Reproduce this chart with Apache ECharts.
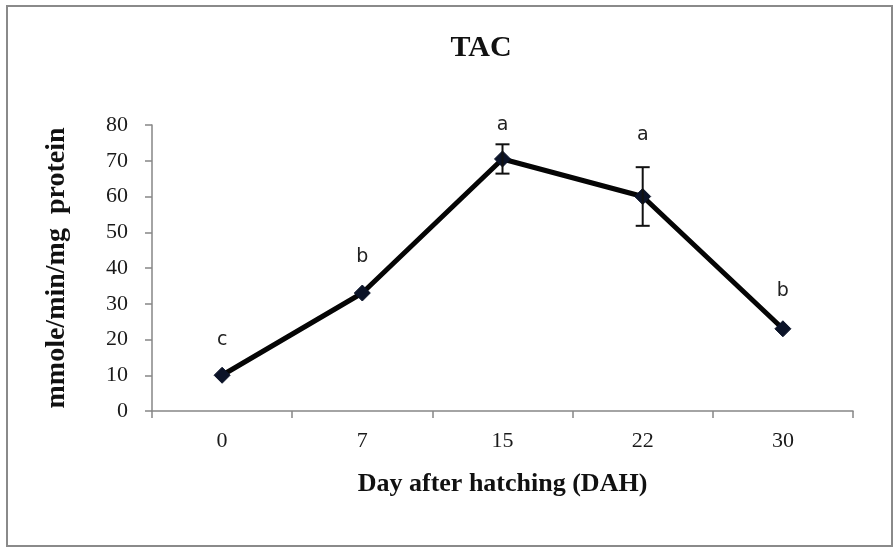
<!DOCTYPE html>
<html>
<head>
<meta charset="utf-8">
<title>TAC</title>
<script src="https://cdn.jsdelivr.net/npm/echarts@6/dist/echarts.min.js"></script>
<style>
  html, body { margin: 0; padding: 0; background: #ffffff; }
  #chart { width: 893px; height: 547px; }
</style>
</head>
<body>
<div id="chart"></div>
<script>
// Days after hatching
const days = ['0', '7', '15', '22', '30'];
// Mean total antioxidant capacity (mmole/min/mg protein)
const tacMean = [10, 33, 70.5, 60, 23];
// Standard error of each mean
const tacErr = [0.5, 0.7, 4.1, 8.2, 0.6];
// Significance letters
const groups = ['c', 'b', 'a', 'a', 'b'];
// Value-axis ticks
const yMin = 0, yMax = 80, yStep = 10;

const serif = '"Liberation Serif", "Times New Roman", serif';
const sans = '"DejaVu Sans", Tahoma, sans-serif';

const chart = echarts.init(document.getElementById('chart'), null, { renderer: 'canvas' });

// distance of each letter above the upper end of its error bar
const letterGap = [33, 33, 19, 32, 36];

const option = {
  animation: false,
  backgroundColor: '#ffffff',
  title: {
    text: 'TAC',
    left: 476,
    top: 28,
    textAlign: 'center',
    textStyle: { fontFamily: serif, fontWeight: 'bold', fontSize: 30, color: '#111' }
  },
  graphic: [{
    type: 'rect',
    shape: { x: 7, y: 6, width: 885, height: 540 },
    style: { fill: 'none', stroke: '#8a8a8a', lineWidth: 2 },
    silent: true
  }],
  grid: { left: 152, right: 40, top: 125, bottom: 136 },
  xAxis: {
    type: 'category',
    data: days,
    boundaryGap: true,
    name: 'Day after hatching (DAH)',
    nameLocation: 'middle',
    nameGap: 60,
    nameTextStyle: { fontFamily: serif, fontWeight: 'bold', fontSize: 26, color: '#111' },
    axisLine: { lineStyle: { color: '#868686', width: 1.5 } },
    axisTick: { show: true, inside: false, length: 7, alignWithLabel: false, lineStyle: { color: '#868686', width: 1.5 } },
    axisLabel: { margin: 19, fontFamily: serif, fontSize: 22, color: '#1a1a1a' },
    splitLine: { show: false }
  },
  yAxis: {
    type: 'value',
    min: yMin,
    max: yMax,
    interval: yStep,
    name: 'mmole/min/mg  protein',
    nameLocation: 'middle',
    nameGap: 81,
    nameRotate: 90,
    nameTextStyle: { fontFamily: serif, fontWeight: 'bold', fontSize: 28, color: '#111' },
    axisLine: { show: true, lineStyle: { color: '#868686', width: 1.5 } },
    axisTick: { show: true, length: 7, lineStyle: { color: '#868686', width: 1.5 } },
    axisLabel: { margin: 24, fontFamily: serif, fontSize: 22, color: '#1a1a1a' },
    splitLine: { show: false }
  },
  series: [
    {
      name: 'TAC',
      type: 'line',
      data: tacMean,
      z: 3,
      symbol: 'diamond',
      symbolSize: 16,
      lineStyle: { color: '#050505', width: 5 },
      itemStyle: { color: '#0b1328', borderColor: '#0b1328', borderWidth: 1 }
    },
    {
      name: 'SE',
      type: 'custom',
      z: 4,
      data: tacMean.map((m, i) => [i, m, tacErr[i], groups[i]]),
      renderItem: function (params, api) {
        const i = api.value(0);
        const m = api.value(1);
        const e = api.value(2);
        const hi = api.coord([i, m + e]);
        const lo = api.coord([i, m - e]);
        const half = 7;
        const children = [];
        if (e >= 1.5) {
          const st = { stroke: '#111', lineWidth: 2 };
          children.push(
            { type: 'line', shape: { x1: hi[0], y1: hi[1], x2: lo[0], y2: lo[1] }, style: st },
            { type: 'line', shape: { x1: hi[0] - half, y1: hi[1], x2: hi[0] + half, y2: hi[1] }, style: st },
            { type: 'line', shape: { x1: lo[0] - half, y1: lo[1], x2: lo[0] + half, y2: lo[1] }, style: st }
          );
        }
        children.push({
          type: 'text',
          x: hi[0],
          y: hi[1] - letterGap[params.dataIndex],
          style: {
            text: groups[params.dataIndex],
            font: '19px ' + sans,
            fill: '#222',
            align: 'center',
            verticalAlign: 'middle'
          }
        });
        return { type: 'group', children: children };
      }
    }
  ]
};

chart.setOption(option);
</script>
</body>
</html>
